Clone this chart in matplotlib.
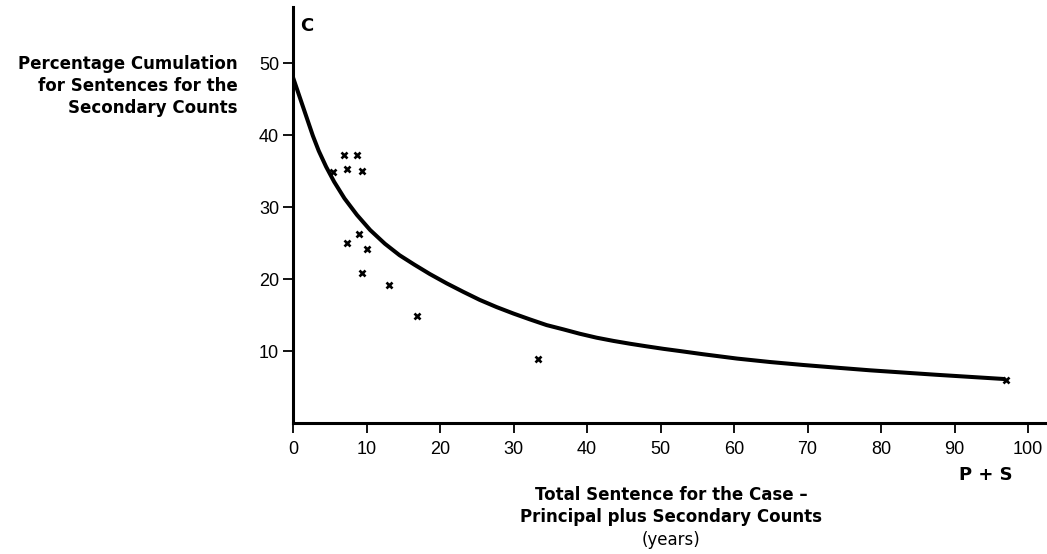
import matplotlib
matplotlib.use("Agg")
import matplotlib.pyplot as plt

plt.rcParams['font.family'] = ['Liberation Sans', 'DejaVu Sans']

# fitted curve
curve_x = [0.0, 1.2, 2.0, 2.7, 3.5, 4.5, 5.6, 7.0, 8.7, 10.5, 12.5, 14.5, 16.5,
           18.6, 20.9, 23.2, 25.4, 27.7, 30.0, 32.2, 34.5, 36.8, 39.0, 41.3,
           43.6, 45.9, 48.1, 50.4, 52.6, 55.8, 60.4, 64.9, 69.4, 74.0, 78.5,
           87.5, 96.9]
curve_y = [48.0, 44.4, 42.0, 39.9, 37.8, 35.6, 33.5, 31.2, 28.9, 26.8, 24.9,
           23.3, 22.0, 20.7, 19.4, 18.2, 17.1, 16.1, 15.2, 14.4, 13.6, 13.0,
           12.4, 11.85, 11.4, 11.0, 10.65, 10.3, 10.0, 9.55, 8.95, 8.47, 8.06,
           7.68, 7.32, 6.7, 6.1]

# observed cases
case_x = [5.45, 6.9, 8.7, 7.3, 9.4, 9.0, 7.4, 10.0, 9.4, 13.1, 16.9, 33.3, 97.0]
case_y = [34.9, 37.2, 37.2, 35.3, 35.0, 26.2, 25.0, 24.1, 20.9, 19.2, 14.9, 8.9, 6.0]

x_ticks = [0, 10, 20, 30, 40, 50, 60, 70, 80, 90, 100]
y_ticks = [10, 20, 30, 40, 50]

W, H = 1047, 554
fig = plt.figure(figsize=(W / 100, H / 100), dpi=100)

left, right, bottom, top = 293, 1047, 423, 7
ax = fig.add_axes([left / W, 1 - bottom / H, (right - left) / W, (bottom - top) / H])

ax.plot(curve_x, curve_y, color='black', lw=2.9, solid_capstyle='butt',
        solid_joinstyle='round', zorder=3)
ax.plot(case_x, case_y, ls='none', marker='x', ms=5, mew=1.9, color='black', zorder=4)

ax.set_xlim(0, (right - left) / 7.35)
ax.set_ylim(0, (bottom - top) / 7.2)

for s in ['top', 'right']:
    ax.spines[s].set_visible(False)
for s in ['left', 'bottom']:
    ax.spines[s].set_linewidth(2.2)

ax.set_xticks(x_ticks)
ax.set_yticks(y_ticks)
ax.tick_params(axis='both', direction='out', width=1.3, length=7, labelsize=13, colors='black')
ax.tick_params(axis='x', pad=6)
ax.tick_params(axis='y', pad=3)

# labels
lab = ['DejaVu Sans']
fig.text(300 / W, 1 - 26 / H, 'C', fontsize=13, fontweight='bold', family=lab,
         ha='left', va='center')
fig.text(238 / W, 1 - 86 / H,
         'Percentage Cumulation\nfor Sentences for the\nSecondary Counts',
         fontsize=12, fontweight='bold', family=lab, ha='right', va='center',
         linespacing=1.3)
fig.text(986 / W, 1 - 475 / H, 'P + S', fontsize=13, fontweight='bold', family=lab,
         ha='center', va='center')
fig.text(671 / W, 1 - 506 / H,
         'Total Sentence for the Case \u2013\nPrincipal plus Secondary Counts',
         fontsize=12, fontweight='bold', family=lab, ha='center', va='center',
         linespacing=1.3)
fig.text(671 / W, 1 - 540 / H, '(years)', fontsize=12, family=lab,
         ha='center', va='center')

fig.savefig('out.png', dpi=100)
